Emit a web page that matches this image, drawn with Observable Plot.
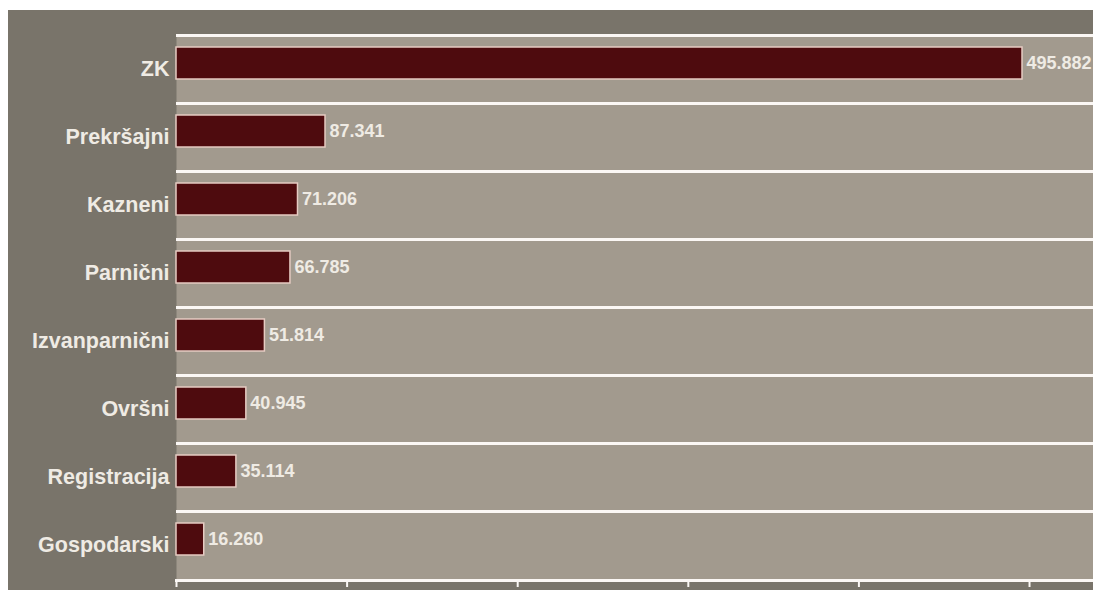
<!DOCTYPE html>
<html>
<head>
<meta charset="utf-8">
<script src="https://cdn.jsdelivr.net/npm/d3@7"></script>
<script src="https://cdn.jsdelivr.net/npm/@observablehq/plot@0.6"></script>
<style>
  html, body { margin: 0; padding: 0; background: #ffffff; }
  #wrap { padding: 10px 0 0 8px; width: 1085px; height: 580px; }
  #wrap svg { display: block; background: #79746a; }
</style>
</head>
<body>
<div id="wrap"></div>
<script>
const categories = ["ZK", "Prekršajni", "Kazneni", "Parnični", "Izvanparnični", "Ovršni", "Registracija", "Gospodarski"];
const values = [495882, 87341, 71206, 66785, 51814, 40945, 35114, 16260];
const xTicks = [0, 100000, 200000, 300000, 400000, 500000];

const data = categories.map((c, i) => ({cat: c, value: values[i]}));
const fmt = d3.formatLocale({decimal: ",", thousands: ".", grouping: [3], currency: ["", ""]}).format(",");

const width = 1085, height = 580;
const mt = 24, mb = 10, ml = 168, mr = 0;
const bw = (height - mt - mb) / categories.length;
const light = "#efebe4";

const chart = Plot.plot({
  width, height,
  marginTop: mt, marginBottom: mb, marginLeft: ml, marginRight: mr,
  style: {fontFamily: "'Liberation Sans', Arial, sans-serif", background: "#79746a"},
  x: {domain: [0, 537500]},
  y: {domain: categories, padding: 0},
  marks: [
    Plot.frame({fill: "#a29a8e", stroke: null}),
    Plot.ruleY(categories, {y: d => d, dy: -bw / 2, stroke: "#fbf7f4", strokeWidth: 3}),
    Plot.frame({anchor: "bottom", stroke: "#fbf7f4", strokeWidth: 3}),
    Plot.barX(data, {y: "cat", x: "value", fill: "#4e0b0e", stroke: "#e6cbc2", strokeWidth: 1.5, insetTop: 12, insetBottom: 24}),
    Plot.text(data, {y: "cat", x: "value", text: d => fmt(d.value), textAnchor: "start", dx: 4, dy: -6, fill: light, fontSize: 18, fontWeight: "bold"}),
    Plot.axisY({tickSize: 0, tickPadding: 7, fontSize: 21.5, fontWeight: "bold", color: light, label: null}),
    Plot.axisX({ticks: xTicks, tickSize: 7, tickFormat: () => "", stroke: "#fbf7f4", strokeWidth: 2, label: null})
  ]
});
document.getElementById("wrap").appendChild(chart);
</script>
</body>
</html>
